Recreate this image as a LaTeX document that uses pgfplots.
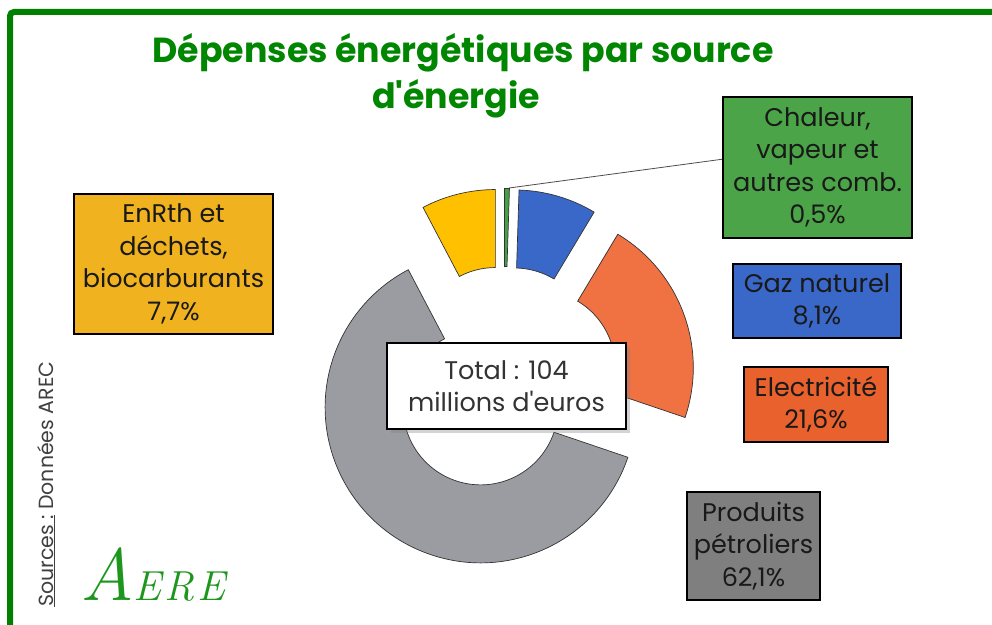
\documentclass[border=0pt]{standalone}
\usepackage{pgfplots}
\pgfplotsset{compat=1.18}
\usepackage{fontspec}
\setmainfont{Poppins}[Ligatures=TeXOff]
\newfontfamily\lmfont{Latin Modern Roman}
\usetikzlibrary{shadows}
\definecolor{framegreen}{RGB}{0,128,0}
\definecolor{titlegreen}{RGB}{0,134,0}
\definecolor{logogreen}{RGB}{30,150,30}
\definecolor{sChal}{RGB}{70,160,70}
\definecolor{sGaz}{RGB}{58,104,200}
\definecolor{sElec}{RGB}{240,113,66}
\definecolor{sPet}{RGB}{155,156,161}
\definecolor{sEnr}{RGB}{255,192,0}
\definecolor{bChal}{RGB}{75,164,71}
\definecolor{bGaz}{RGB}{58,104,200}
\definecolor{bElec}{RGB}{233,98,45}
\definecolor{bPet}{RGB}{127,127,127}
\definecolor{bEnr}{RGB}{240,178,30}
\tikzset{box/.style={draw=black, line width=1.5pt, align=center, inner sep=0pt,
    font=\fontsize{25.5}{32.5}\selectfont, text=black!90}}
\begin{document}
\begin{tikzpicture}[x=1pt,y=1pt]
\useasboundingbox (0,0) rectangle (992,624);
\begin{scope}
\clip (0,0) rectangle (992,624);
\draw[line width=6pt, color=framegreen, rounded corners=4pt] (10,-20) -- (10,612) -- (1020,612);
\end{scope}
\begin{axis}[at={(0pt,0pt)}, anchor=south west, scale only axis, width=992pt, height=624pt,
  xmin=0, xmax=992, ymin=0, ymax=624, hide axis, clip=false]
% donut slices: values in percent, clockwise from the top
\gdef\cum{0}
\foreach \v/\fc in {0.5/sChal, 8.1/sGaz, 21.6/sElec, 62.1/sPet, 7.7/sEnr}{
  \pgfmathsetmacro\a{90-3.6*\cum}
  \pgfmathsetmacro\b{90-3.6*(\cum+\v)}
  \pgfmathsetmacro\m{(\a+\b)/2}
  \pgfmathsetmacro\cx{504+36*cos(\m)}
  \pgfmathsetmacro\cy{244+36*sin(\m)}
  \pgfmathsetmacro\xo{\cx+155.5*cos(\a)}
  \pgfmathsetmacro\yo{\cy+155.5*sin(\a)}
  \pgfmathsetmacro\xin{\cx+77.5*cos(\b)}
  \pgfmathsetmacro\yin{\cy+77.5*sin(\b)}
  \edef\tmp{\noexpand\filldraw[fill=\fc, draw=black!80, line width=0.7pt]
    (axis cs:\xo,\yo) arc[start angle=\a, end angle=\b, radius=155.5pt]
    -- (axis cs:\xin,\yin) arc[start angle=\b, end angle=\a, radius=77.5pt] -- cycle;}
  \tmp
  \pgfmathsetmacro\nc{\cum+\v}
  \xdef\cum{\nc}
}
\draw[black!70, line width=0.8pt] (axis cs:509,436) -- (axis cs:724,465);
% title
\node[anchor=base, text=titlegreen, font=\bfseries\fontsize{34.8}{36}\selectfont] at (axis cs:463,561) {Dépenses énergétiques par source};
\node[anchor=base, text=titlegreen, font=\bfseries\fontsize{34.8}{36}\selectfont] at (axis cs:456,515) {d'énergie};
% labels
\node[box, fill=bChal, minimum width=189pt, minimum height=141pt] at (axis cs:817.5,456.5) {Chaleur,\\vapeur et\\autres comb.\\0,5\%};
\node[box, fill=bGaz, minimum width=168pt, minimum height=74pt] at (axis cs:817,323) {Gaz naturel\\8,1\%};
\node[box, fill=bElec, minimum width=144pt, minimum height=75pt] at (axis cs:816,219.5) {Electricité\\21,6\%};
\node[box, fill=bPet, minimum width=133pt, minimum height=108pt] at (axis cs:753.5,78) {Produits\\pétroliers\\62,1\%};
\node[box, fill=bEnr, minimum width=199pt, minimum height=140pt] at (axis cs:173.5,360) {EnRth et\\déchets,\\biocarburants\\7,7\%};
\node[box, fill=white, text=black!80, minimum width=239pt, minimum height=86pt,
  drop shadow={opacity=0.35, shadow xshift=4pt, shadow yshift=-4pt}] at (axis cs:506.5,238) {Total : 104\\millions d'euros};
% source and logo
\node[rotate=90, anchor=base west, text=black!75, font=\fontsize{20.5}{20}\selectfont, inner sep=0pt] at (axis cs:53,17) {\underline{Sources :} Données AREC};
\node[anchor=base west, text=logogreen, inner sep=0pt] at (axis cs:80,24) {\lmfont\itshape{\fontsize{74}{74}\selectfont A}{\fontsize{42}{42}\selectfont E\kern3pt R\kern3pt E}};
\end{axis}
\end{tikzpicture}
\end{document}
